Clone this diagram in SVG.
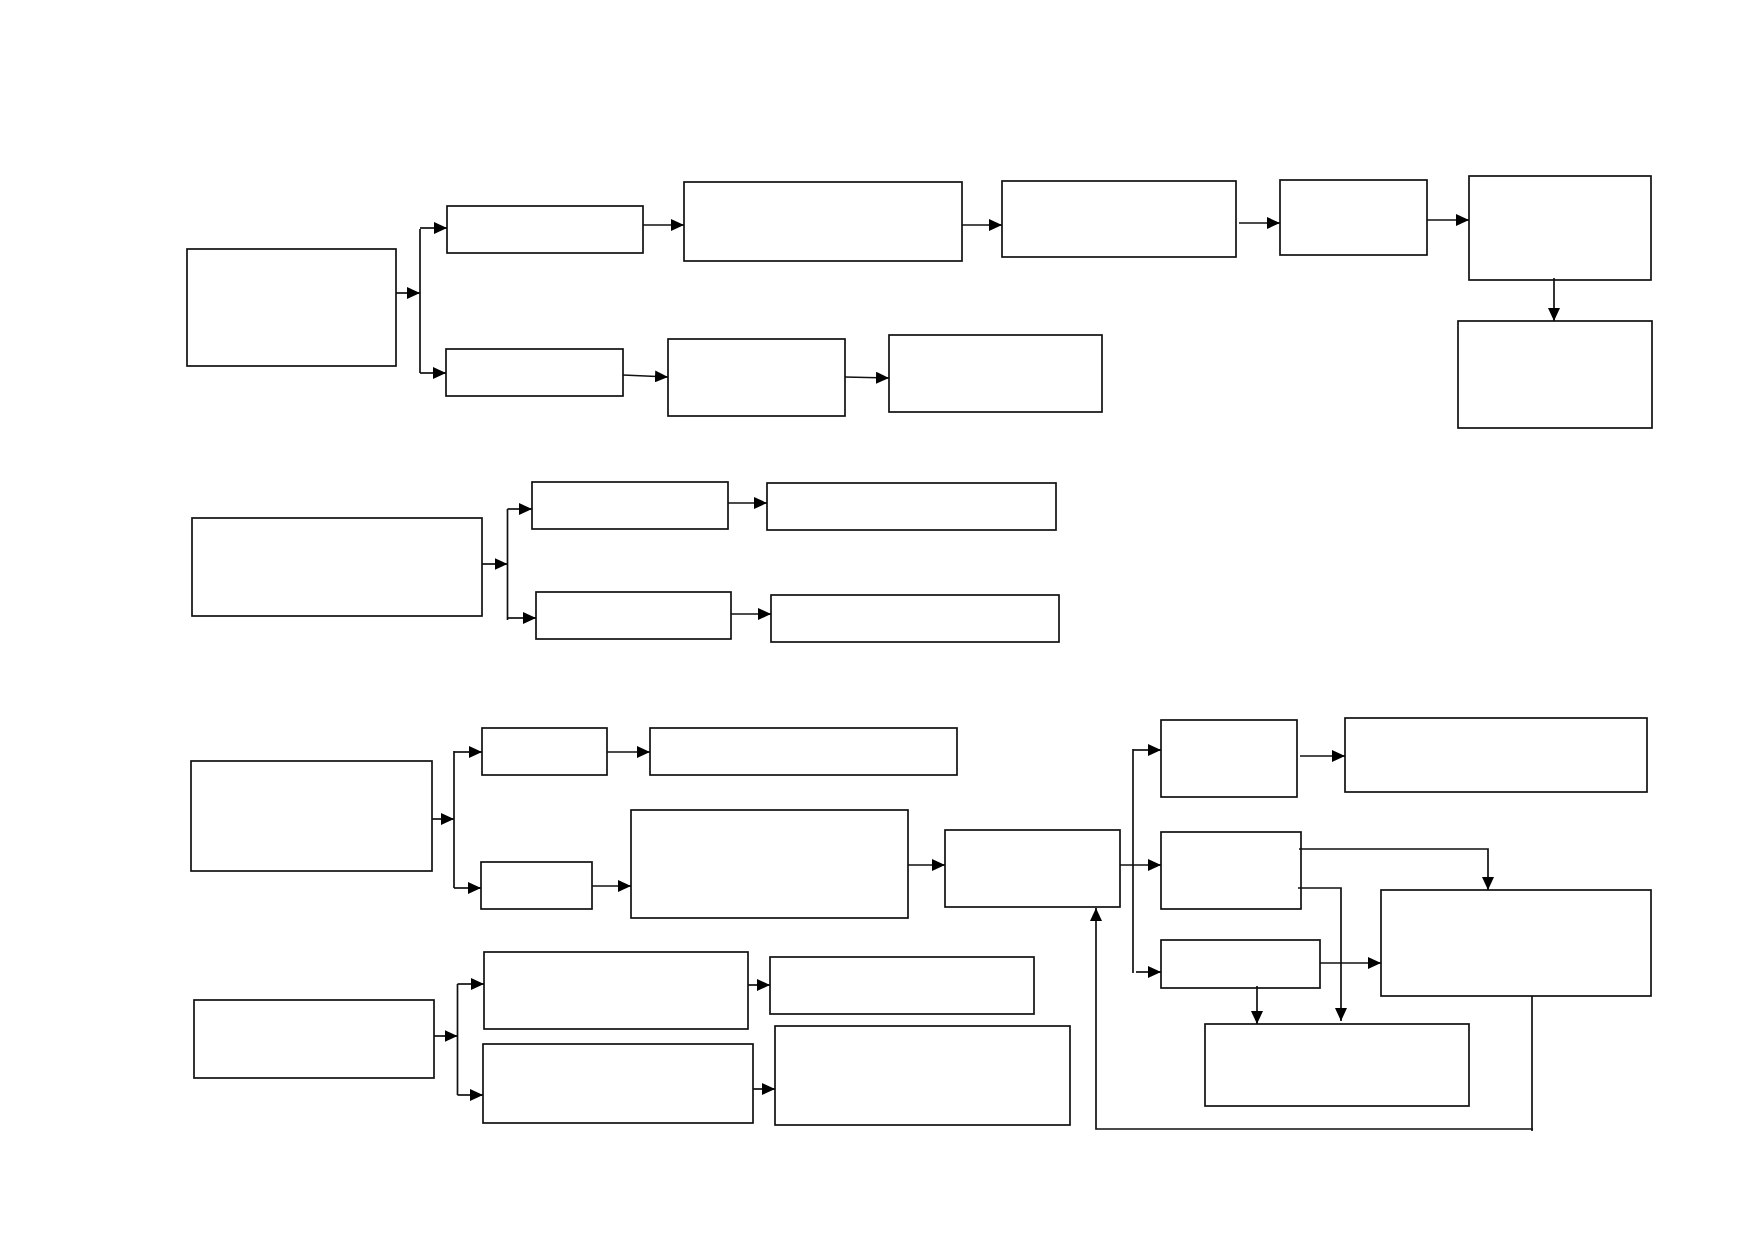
<svg xmlns="http://www.w3.org/2000/svg" width="1754" height="1239" viewBox="0 0 1754 1239">
<style>
.box{fill:#fff;stroke:#111;stroke-width:1.7}
.c{fill:none;stroke:#111;stroke-width:1.7}
.a{marker-end:url(#ah)}
</style>
<defs>
<marker id="ah" markerUnits="userSpaceOnUse" markerWidth="13" markerHeight="12" refX="13" refY="6" orient="auto">
<path d="M0,0 L13,6 L0,12 z" fill="#000"/>
</marker>
</defs>
<rect width="1754" height="1239" fill="#fff"/>
<g transform="translate(0,1)">
<g id="nodes">
<g id="A"><rect class="box" x="187" y="248" width="209" height="117"/></g>
<g id="B1"><rect class="box" x="447" y="205" width="196" height="47"/></g>
<g id="B2"><rect class="box" x="446" y="348" width="177" height="47"/></g>
<g id="C1"><rect class="box" x="684" y="181" width="278" height="79"/></g>
<g id="D1"><rect class="box" x="1002" y="180" width="234" height="76"/></g>
<g id="E1"><rect class="box" x="1280" y="179" width="147" height="75"/></g>
<g id="F1"><rect class="box" x="1469" y="175" width="182" height="104"/></g>
<g id="G1"><rect class="box" x="1458" y="320" width="194" height="107"/></g>
<g id="C2"><rect class="box" x="668" y="338" width="177" height="77"/></g>
<g id="D2"><rect class="box" x="889" y="334" width="213" height="77"/></g>
<g id="H"><rect class="box" x="192" y="517" width="290" height="98"/></g>
<g id="I1"><rect class="box" x="532" y="481" width="196" height="47"/></g>
<g id="J1"><rect class="box" x="767" y="482" width="289" height="47"/></g>
<g id="I2"><rect class="box" x="536" y="591" width="195" height="47"/></g>
<g id="J2"><rect class="box" x="771" y="594" width="288" height="47"/></g>
<g id="K"><rect class="box" x="191" y="760" width="241" height="110"/></g>
<g id="L1"><rect class="box" x="482" y="727" width="125" height="47"/></g>
<g id="M1"><rect class="box" x="650" y="727" width="307" height="47"/></g>
<g id="L2"><rect class="box" x="481" y="861" width="111" height="47"/></g>
<g id="M2"><rect class="box" x="631" y="809" width="277" height="108"/></g>
<g id="N"><rect class="box" x="945" y="829" width="175" height="77"/></g>
<g id="P1"><rect class="box" x="1161" y="719" width="136" height="77"/></g>
<g id="Q1"><rect class="box" x="1345" y="717" width="302" height="74"/></g>
<g id="P2"><rect class="box" x="1161" y="831" width="140" height="77"/></g>
<g id="R"><rect class="box" x="1381" y="889" width="270" height="106"/></g>
<g id="P3"><rect class="box" x="1161" y="939" width="159" height="48"/></g>
<g id="S"><rect class="box" x="1205" y="1023" width="264" height="82"/></g>
<g id="T"><rect class="box" x="194" y="999" width="240" height="78"/></g>
<g id="U1"><rect class="box" x="484" y="951" width="264" height="77"/></g>
<g id="V1"><rect class="box" x="770" y="956" width="264" height="57"/></g>
<g id="U2"><rect class="box" x="483" y="1043" width="270" height="79"/></g>
<g id="V2"><rect class="box" x="775" y="1025" width="295" height="99"/></g>
</g>
<g id="connectors">
<path class="c a" d="M396,292 H420"/>
<path class="c" d="M420,228 V372"/>
<path class="c a" d="M420,227 H447"/>
<path class="c a" d="M420,372 H446"/>
<path class="c a" d="M643,224 H684"/>
<path class="c a" d="M962,224 H1002"/>
<path class="c a" d="M1239,222 H1280"/>
<path class="c a" d="M1427,219 H1469"/>
<path class="c a" d="M1554,277 V320"/>
<path class="c a" d="M623,374 L668,376"/>
<path class="c a" d="M845,376 L889,377"/>

<path class="c a" d="M482,563 H507.5"/>
<path class="c" d="M507.5,508 V619"/>
<path class="c a" d="M507.5,508 H532"/>
<path class="c a" d="M507.5,617 H536"/>
<path class="c a" d="M728,502 H767"/>
<path class="c a" d="M731,613 H771"/>

<path class="c a" d="M432,818 H454"/>
<path class="c" d="M454,750 V887"/>
<path class="c a" d="M454,751 H482"/>
<path class="c a" d="M454,887 H481"/>
<path class="c a" d="M607,751 H650"/>
<path class="c a" d="M592,885 H631"/>
<path class="c a" d="M908,864 H945"/>
<path class="c a" d="M1120,864 H1161"/>
<path class="c" d="M1133,748 V972"/>
<path class="c a" d="M1133,749 H1161"/>
<path class="c a" d="M1136,971 H1161"/>
<path class="c a" d="M1300,755 H1345"/>
<path class="c a" d="M1299,848 H1488 V889"/>
<path class="c a" d="M1298,887 H1341 V1020"/>
<path class="c a" d="M1320,962 H1381"/>
<path class="c a" d="M1257,985 V1023"/>
<path class="c" d="M1532,995 V1130"/>
<path class="c a" d="M1533,1128 H1096 V907"/>

<path class="c a" d="M434,1035 H457.5"/>
<path class="c" d="M457.5,983 V1094"/>
<path class="c a" d="M457.5,983 H484"/>
<path class="c a" d="M457.5,1094 H483"/>
<path class="c a" d="M748,984 H770"/>
<path class="c a" d="M753,1088 H775"/>
</g>
</g>
</svg>
